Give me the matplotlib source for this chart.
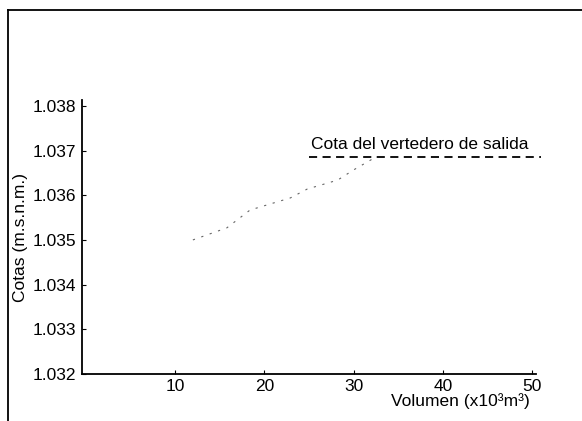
import numpy as np
import matplotlib.pyplot as plt
from matplotlib.lines import Line2D

plt.rcParams['font.family'] = ['Liberation Sans', 'DejaVu Sans']

# curva cota-volumen
volumen = [12.0, 15.8, 18.4, 22.9, 24.8, 28.2, 30.0, 32.5]
cota = [1.03500, 1.03527, 1.03567, 1.03594, 1.03614, 1.03634, 1.03657, 1.03686]

# cota del vertedero de salida
vertedero_x = [25.0, 51.0]
vertedero_y = [1.03686, 1.03686]

yticks = [1.032, 1.033, 1.034, 1.035, 1.036, 1.037, 1.038]
ytick_labels = ['1.032', '1.033', '1.034', '1.035', '1.036', '1.037', '1.038']
xticks = [10, 20, 30, 40, 50]

fs = 12.5

fig = plt.figure(figsize=(5.82, 4.21), dpi=100)
ax = fig.add_axes([0.141, 0.112, 0.780, 0.650])

ax.plot(volumen, cota, color='#666666', lw=0.8, linestyle=(0, (2, 6)))
ax.plot(vertedero_x, vertedero_y, color='black', lw=1.3, linestyle=(0, (4.5, 3)), clip_on=False)
ax.text(25.2, 1.03696, 'Cota del vertedero de salida', fontsize=fs, ha='left', va='bottom')

ax.set_xlim(-0.4, 50.4)
ax.set_ylim(1.032, 1.03813)
ax.set_xticks(xticks)
ax.set_yticks(yticks)
ax.set_yticklabels(ytick_labels)
ax.tick_params(axis='both', direction='in', length=3, width=0.8, labelsize=fs, pad=4)

for s in ['top', 'right']:
    ax.spines[s].set_visible(False)
for s in ['left', 'bottom']:
    ax.spines[s].set_linewidth(1.3)

ax.set_ylabel('Cotas (m.s.n.m.)', fontsize=fs)
ax.yaxis.set_label_coords(-0.119, 0.5)
ax.set_xlabel('Volumen (x10³m³)', fontsize=fs, ha='right')
ax.xaxis.set_label_coords(0.987, -0.07)

# marco del escaneo
fig.add_artist(Line2D([8 / 582, 8 / 582], [0, 1 - 10 / 421], color='black', lw=1.3, transform=fig.transFigure))
fig.add_artist(Line2D([8 / 582, 1], [1 - 10 / 421, 1 - 10 / 421], color='black', lw=1.3, transform=fig.transFigure))

fig.savefig('out.png', dpi=100)
